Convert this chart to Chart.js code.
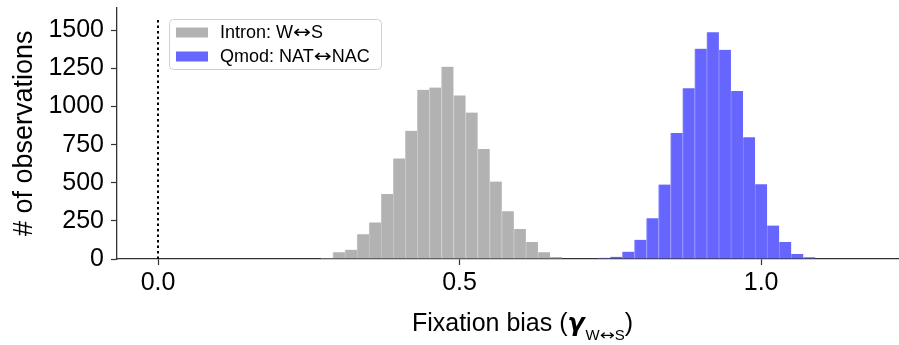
<!DOCTYPE html>
<html><head><meta charset="utf-8">
<script src="https://cdn.jsdelivr.net/npm/chart.js@4.4.1/dist/chart.umd.min.js"></script>
<style>html,body{margin:0;padding:0;background:#fff;}#wrap{width:899px;height:345px;position:relative;}</style>
</head><body><div id="wrap"><canvas id="c" width="899" height="345" style="width:899px;height:345px"></canvas></div>
<script>
// ---- data ----
const seriesLabels = ['Intron: W\u2194S', 'Qmod: NAT\u2194NAC'];
const intronBins = [0.28,0.30,0.32,0.34,0.36,0.38,0.40,0.42,0.44,0.46,0.48,0.50,0.52,0.54,0.56,0.58,0.60,0.62,0.64,0.66,0.68];
const intronCounts = [6,44,61,163,240,427,660,841,1110,1125,1262,1073,961,722,508,314,196,111,44,13,4];
const qmodBins = [0.74,0.76,0.78,0.80,0.82,0.84,0.86,0.88,0.90,0.92,0.94,0.96,0.98,1.00,1.02,1.04,1.06,1.08];
const qmodCounts = [8,15,48,126,268,488,826,1121,1380,1487,1373,1103,798,490,220,112,32,11];
const neutralX = [0, 0];
const neutralY = [0, 1570];
const xTicks = [0.0, 0.5, 1.0];
const yTicks = [0, 250, 500, 750, 1000, 1250, 1500];
const xRange = [-0.068, 1.227];
const yRange = [0, 1650];

const FONT = '"Liberation Sans", Arial, Helvetica, sans-serif';
const ARROW = '\u2194';

const barCommon = {
  type: 'bar', barPercentage: 1, categoryPercentage: 1, grouped: false,
  borderSkipped: false, borderWidth: {left: 1, right: 0, top: 0, bottom: 0}
};

// width of the arrow glyph drawn 1em wide
function arrowW(size) { return size * 1.0; }

// draw a string; the arrow glyph uses DejaVu Sans stretched to 1em
function drawMixed(ctx, text, x, y, size) {
  const pieces = text.split(ARROW);
  pieces.forEach((p, i) => {
    ctx.font = size + 'px ' + FONT;
    ctx.fillText(p, x, y);
    x += ctx.measureText(p).width;
    if (i < pieces.length - 1) {
      ctx.font = size + 'px "DejaVu Sans", ' + FONT;
      const nat = ctx.measureText(ARROW).width;
      const target = arrowW(size);
      ctx.save();
      ctx.translate(x, y);
      ctx.scale(target / nat, 1);
      ctx.fillText(ARROW, 0, 0);
      ctx.restore();
      x += target;
    }
  });
  return x;
}
function measureMixed(ctx, text, size) {
  const pieces = text.split(ARROW);
  ctx.font = size + 'px ' + FONT;
  let w = 0;
  pieces.forEach(p => { w += ctx.measureText(p).width; });
  return w + (pieces.length - 1) * arrowW(size);
}

const overlay = {
  id: 'overlay',
  afterDraw(chart) {
    const ctx = chart.ctx, ca = chart.chartArea;
    ctx.save();
    // legend
    const lx = ca.left + 52.5, ly = ca.top + 12;
    const lw = 212, lh = 50;
    ctx.beginPath();
    ctx.roundRect(lx, ly, lw, lh, 4);
    ctx.fillStyle = 'rgba(255,255,255,0.85)';
    ctx.fill();
    ctx.strokeStyle = '#cfcfcf';
    ctx.lineWidth = 1;
    ctx.stroke();
    const rows = [0, 1];
    ctx.textBaseline = 'middle';
    ctx.textAlign = 'left';
    rows.forEach(i => {
      const ds = chart.data.datasets[i];
      const cy = ly + 13 + i * 24;
      ctx.fillStyle = ds.backgroundColor;
      ctx.fillRect(lx + 6.5, cy - 5, 32, 10);
      ctx.fillStyle = '#000';
      drawMixed(ctx, ds.label, lx + 50.5, cy + 1, 18);
    });
    // x-axis title with mixed fonts
    ctx.textBaseline = 'alphabetic';
    ctx.fillStyle = '#000';
    const mainF = '25px ' + FONT;
    const gamF = 'italic bold 25px "DejaVu Sans", ' + FONT;
    const sub = 'W' + ARROW + 'S', subSize = 15;
    ctx.font = mainF; const w1 = ctx.measureText('Fixation bias (').width;
    const w4 = ctx.measureText(')').width;
    ctx.font = gamF; const w2 = ctx.measureText('\u03B3').width;
    const ws = measureMixed(ctx, sub, subSize);
    const total = w1 + w2 + 1 + ws + w4;
    let x = (ca.left + ca.right) / 2 + 15 - total / 2;
    const base = ca.bottom + 72;
    ctx.font = mainF; ctx.fillText('Fixation bias (', x, base); x += w1;
    ctx.font = gamF; ctx.fillText('\u03B3', x, base); x += w2 + 1;
    x = drawMixed(ctx, sub, x, base + 9, subSize);
    ctx.font = mainF; ctx.fillText(')', x, base);
    ctx.restore();
  }
};

new Chart(document.getElementById('c'), {
  data: {
    datasets: [
      Object.assign({}, barCommon, {
        label: seriesLabels[0],
        data: intronBins.map((b, i) => ({x: b, y: intronCounts[i]})),
        backgroundColor: 'rgb(178,178,178)', borderColor: 'rgb(200,200,200)', order: 2
      }),
      Object.assign({}, barCommon, {
        label: seriesLabels[1],
        data: qmodBins.map((b, i) => ({x: b, y: qmodCounts[i]})),
        backgroundColor: 'rgb(102,102,255)', borderColor: 'rgb(140,140,255)', order: 2
      }),
      {
        type: 'line', label: 'neutral',
        data: neutralX.map((v, i) => ({x: v, y: neutralY[i]})),
        borderColor: '#000', borderWidth: 2, borderDash: [2.5, 3],
        pointRadius: 0, fill: false, order: 1
      }
    ]
  },
  plugins: [overlay],
  options: {
    responsive: false, animation: false, maintainAspectRatio: false,
    devicePixelRatio: 1,
    layout: {padding: {top: 7.5, right: 1, bottom: 0, left: 0}},
    plugins: {legend: {display: false}, tooltip: {enabled: false}},
    scales: {
      x: {
        type: 'linear', min: xRange[0], max: xRange[1], offset: false,
        afterBuildTicks: s => { s.ticks = xTicks.map(v => ({value: v})); },
        afterFit: s => { s.height = 86; s.paddingLeft = 0; s.paddingRight = 0; },
        ticks: {callback: v => Number(v).toFixed(1), font: {family: FONT, size: 25}, color: '#000', padding: 3, maxRotation: 0, autoSkip: false},
        grid: {drawOnChartArea: false, drawTicks: true, tickLength: 6, color: '#333', tickWidth: 1.2, offset: false},
        border: {display: true, color: '#333', width: 1.3}
      },
      y: {
        type: 'linear', min: yRange[0], max: yRange[1],
        afterBuildTicks: s => { s.ticks = yTicks.map(v => ({value: v})); },
        afterFit: s => { s.width = 117; s.paddingTop = 0; s.paddingBottom = 0; },
        ticks: {callback: v => String(v), font: {family: FONT, size: 25}, color: '#000', padding: 7},
        grid: {drawOnChartArea: false, drawTicks: true, tickLength: 6, color: '#333', tickWidth: 1.2},
        border: {display: true, color: '#333', width: 1.3},
        title: {display: true, text: '# of observations', font: {family: FONT, size: 27}, color: '#000', padding: {top: 8, bottom: 0}}
      }
    }
  }
});
</script></body></html>
